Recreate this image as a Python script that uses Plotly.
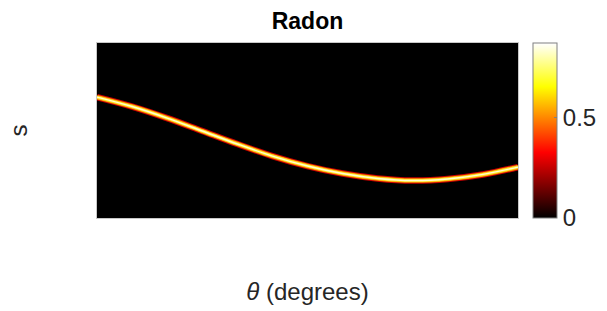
import plotly.graph_objects as go

# Curve positions: projection angle (deg) and offset s
theta = [0, 15, 30, 45, 60, 75, 90, 105, 120, 135, 150, 165, 180]
s_val = [19.1, 13.7, 7.1, -0.3, -7.7, -14.6, -20.3, -24.6, -27.4, -28.6, -27.7, -25.1, -20.9]

# Background of the Radon image (zero everywhere off the curve)
bg_theta = [0, 180]
bg_s = [-50, 50]
bg_z = [[0, 0], [0, 0]]

z_max = 0.87
cb_ticks = [0, 0.5]
cb_labels = ["0", "0.5"]

hot = [[0.0, "rgb(0,0,0)"], [0.375, "rgb(255,0,0)"], [0.75, "rgb(255,255,0)"], [1.0, "rgb(255,255,255)"]]

FONT = "Liberation Sans, Arial, Helvetica, sans-serif"

fig = go.Figure()
fig.add_trace(go.Heatmap(
    x=bg_theta, y=bg_s, z=bg_z, zmin=0, zmax=z_max, colorscale=hot,
    hoverinfo="skip",
    colorbar=dict(
        x=(533 - 97) / 421, xanchor="left", xpad=0, ypad=0,
        y=0.5, yanchor="middle", len=1, lenmode="fraction",
        thickness=24, thicknessmode="pixels",
        outlinewidth=1, outlinecolor="#808080",
        tickvals=cb_ticks, ticktext=cb_labels,
        ticks="inside", ticklen=3, tickcolor="#808080",
        tickfont=dict(family=FONT, size=24, color="#262626"),
    ),
))

for w, c in [(6.5, "rgb(200,0,0)"), (4.5, "rgb(255,150,0)"), (3.0, "rgb(255,230,40)"), (1.4, "rgb(255,255,210)")]:
    fig.add_trace(go.Scatter(
        x=theta, y=s_val, mode="lines",
        line=dict(color=c, width=w, shape="spline", smoothing=1.0),
        hoverinfo="skip", showlegend=False,
    ))

fig.update_layout(
    width=607, height=311,
    margin=dict(l=97, r=89, t=43, b=93, autoexpand=False),
    paper_bgcolor="white", plot_bgcolor="black",
    font=dict(family=FONT, color="#262626"),
    title=dict(text="<b>Radon</b>", x=(97 + 518) / 2 / 607, xanchor="center",
               y=1 - 21 / 311, yanchor="middle", yref="container",
               font=dict(family=FONT, size=23, color="#000000")),
    showlegend=False,
)
fig.update_xaxes(range=[0, 180], showticklabels=False, ticks="", showgrid=False, zeroline=False,
                 showline=True, linecolor="#c8c8c8", linewidth=1, mirror=True,
                 title=dict(text="<i>θ</i> (degrees)", standoff=65,
                            font=dict(family=FONT, size=24, color="#262626")))
fig.update_yaxes(range=[-50, 50], showticklabels=False, ticks="", showgrid=False, zeroline=False,
                 showline=True, linecolor="#c8c8c8", linewidth=1, mirror=True,
                 title=dict(text="s", standoff=61,
                            font=dict(family=FONT, size=24, color="#262626")))

fig.write_html("out.html", config={"displayModeBar": False},
               post_script="document.body.style.margin='0';")
